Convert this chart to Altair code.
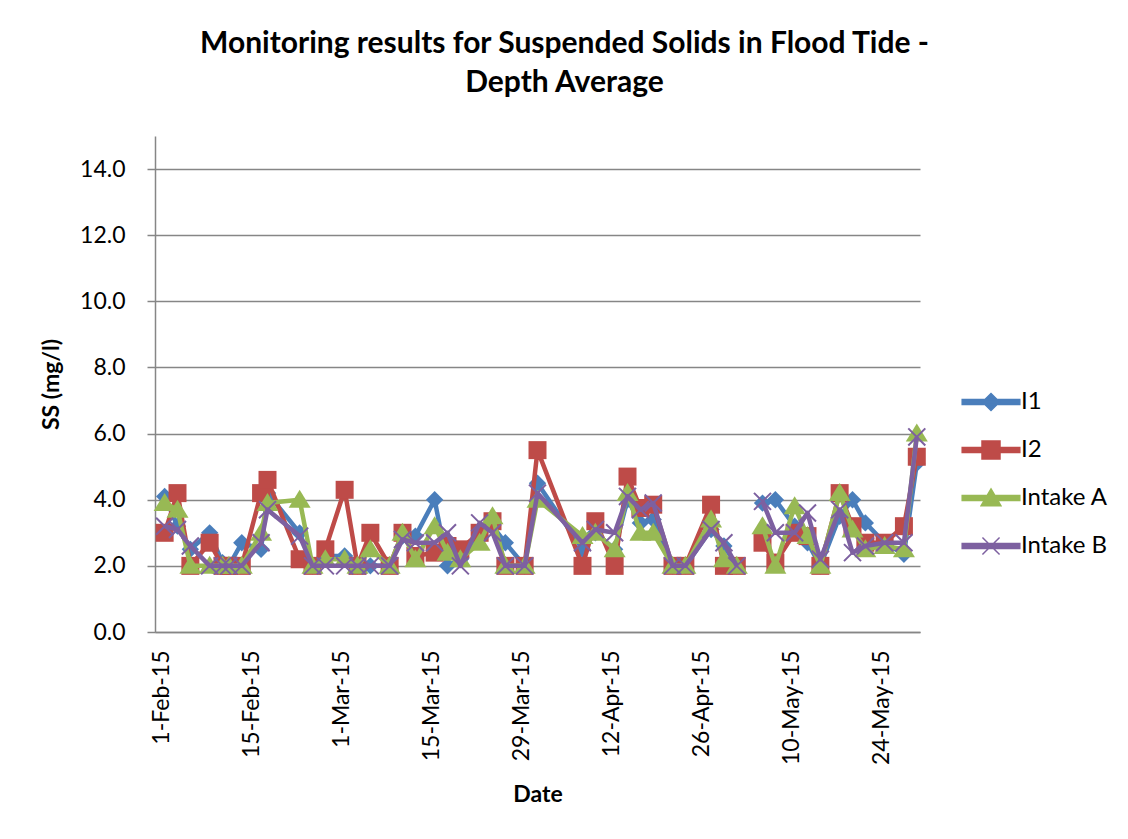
import altair as alt
import pandas as pd

# ---- data ----
dates = [
    "2015-02-01", "2015-02-03", "2015-02-05", "2015-02-08", "2015-02-10", "2015-02-11",
    "2015-02-13", "2015-02-16", "2015-02-17", "2015-02-22", "2015-02-24", "2015-02-26",
    "2015-03-01", "2015-03-03", "2015-03-05", "2015-03-08", "2015-03-10", "2015-03-12",
    "2015-03-15", "2015-03-17", "2015-03-19", "2015-03-22", "2015-03-24", "2015-03-26",
    "2015-03-29", "2015-03-31", "2015-04-07", "2015-04-09", "2015-04-12", "2015-04-14",
    "2015-04-16", "2015-04-18", "2015-04-21", "2015-04-23", "2015-04-27", "2015-04-29",
    "2015-05-01", "2015-05-03", "2015-05-05", "2015-05-07", "2015-05-10", "2015-05-12",
    "2015-05-14", "2015-05-17", "2015-05-19", "2015-05-21", "2015-05-24", "2015-05-27",
    "2015-05-29",
]
i1 = [4.1, 3.2, 2.5, 3.0, 2.1, 2.0, 2.7, 2.5, 4.2, 3.0, 2.0, 2.3,
      2.3, 2.0, 2.0, 2.0, 2.9, 2.9, 4.0, 2.0, 2.2, 2.9, 3.2, 2.7,
      2.0, 4.5, 2.5, 3.0, 2.5, 4.0, 3.3, 3.4, 2.0, 2.0, 3.1, 2.6,
      2.0, None, 3.9, 4.0, 3.2, 2.7, 2.0, 3.5, 4.0, 3.3, 2.7, 2.35,
      5.1]
i2 = [3.0, 4.2, 2.0, 2.7, 2.0, 2.0, 2.0, 4.2, 4.6, 2.2, 2.0, 2.5,
      4.3, 2.0, 3.0, 2.0, 3.0, 2.3, 2.4, 2.6, 2.5, 3.0, 3.35, 2.0,
      2.0, 5.5, 2.0, 3.35, 2.0, 4.7, 3.75, 3.85, 2.0, 2.0, 3.85, 2.0,
      2.0, None, 2.7, 2.1, 3.0, 2.9, 2.0, 4.2, 3.2, 2.7, 2.7, 3.2,
      5.3]
intake_a = [3.9, 3.7, 2.0, 2.0, 2.0, 2.0, 2.0, 3.0, 3.9, 4.0, 2.0, 2.2,
            2.2, 2.0, 2.5, 2.0, 3.0, 2.2, 3.2, 2.4, 2.2, 2.7, 3.5, 2.0,
            2.0, 4.0, 2.9, 3.0, 2.5, 4.2, 3.0, 3.0, 2.0, 2.0, 3.4, 2.2,
            2.0, None, 3.2, 2.0, 3.8, 2.9, 2.0, 4.2, 3.1, 2.5, 2.6, 2.5,
            6.0]
intake_b = [3.2, 3.1, 2.6, 2.0, 2.0, 2.0, 2.0, 2.7, 3.7, 2.9, 2.0, 2.0,
            2.0, 2.0, 2.0, 2.0, 2.8, 2.7, 2.7, 3.0, 2.0, 3.3, 3.0, 2.0,
            2.0, 4.2, 2.7, 3.1, 3.0, 4.1, 3.7, 3.9, 2.0, 2.0, 3.1, 2.7,
            2.0, None, 3.95, 3.0, 3.0, 3.6, 2.2, 3.7, 2.4, 2.6, 2.7, 2.7,
            5.9]

series_names = ["I1", "I2", "Intake A", "Intake B"]
series_values = [i1, i2, intake_a, intake_b]
colors = ["#4A7EBB", "#BE4B48", "#98B954", "#7D60A0"]

x_tick_dates = [(2015, 2, 1), (2015, 2, 15), (2015, 3, 1), (2015, 3, 15), (2015, 3, 29),
                (2015, 4, 12), (2015, 4, 26), (2015, 5, 10), (2015, 5, 24)]
y_ticks = [0, 2, 4, 6, 8, 10, 12, 14]

# ---- build long table ----
rows = []
for name, vals in zip(series_names, series_values):
    seg = 0
    for d, v in zip(dates, vals):
        if v is None:
            seg += 1
            continue
        rows.append({"date": d + "T12:00:00", "value": v, "series": name, "seg": seg})
df = pd.DataFrame(rows)

FONT = "Lato"
GRID = "#868686"

x_enc = alt.X(
    "date:T",
    scale=alt.Scale(domain=[alt.DateTime(year=2015, month=1, date=31),
                            alt.DateTime(year=2015, month=5, date=30)]),
    axis=alt.Axis(
        title="Date",
        values=[alt.DateTime(year=y, month=m, date=d) for (y, m, d) in x_tick_dates],
        format="%-d-%b-%y",
        labelAngle=270,
        labelPadding=18,
        ticks=False,
        grid=False,
        titlePadding=19,
    ),
)
y_enc = alt.Y(
    "value:Q",
    scale=alt.Scale(domain=[0, 15], nice=False),
    axis=alt.Axis(
        title="SS (mg/l)",
        values=y_ticks,
        format=".1f",
        grid=True,
        tickSize=8,
        labelPadding=22,
        titlePadding=16,
    ),
)

marker_paths = [
    "M0,-1L1,0L0,1L-1,0Z",
    "M-1,-1L1,-1L1,1L-1,1Z",
    "M0,-1L1.1,0.8L-1.1,0.8Z",
    "M-1,-1L1,1M1,-1L-1,1",
]
marker_sizes = [300, 324, 400, 290]

LINE = "M-3.2,-0.28L3.2,-0.28L3.2,0.28L-3.2,0.28Z"
legend_paths = [
    LINE + "M0,-0.95L0.95,0L0,0.95L-0.95,0Z",
    LINE + "M-1,-1L1,-1L1,1L-1,1Z",
    LINE + "M0,-1L1.1,0.85L-1.1,0.85Z",
    LINE + "M-0.95,-0.95L0.95,0.95M0.95,-0.95L-0.95,0.95",
]

layers = []
for i, name in enumerate(series_names):
    sub = alt.Chart(df).transform_filter(alt.datum.series == name)
    line = sub.mark_line(color=colors[i], strokeWidth=4.5, strokeJoin="round").encode(
        x=x_enc, y=y_enc, detail="seg:N"
    )
    if i == 3:
        pts = sub.mark_point(shape=marker_paths[i], size=marker_sizes[i], filled=False,
                             color=colors[i], strokeWidth=2, opacity=1).encode(x=x_enc, y=y_enc)
    else:
        pts = sub.mark_point(shape=marker_paths[i], size=marker_sizes[i], filled=True,
                             color=colors[i], strokeWidth=0, opacity=1).encode(x=x_enc, y=y_enc)
    layers += [line, pts]

# legend-only layer: no rows drawn, the legend comes from the explicit scale domains
legend_layer = alt.Chart(df).transform_filter("false").mark_point(filled=True, size=324).encode(
    x=x_enc,
    y=y_enc,
    fill=alt.Fill("series:N", scale=alt.Scale(domain=series_names, range=colors),
                  legend=alt.Legend(title=None)),
    stroke=alt.Stroke("series:N", scale=alt.Scale(domain=series_names, range=colors),
                      legend=alt.Legend(title=None)),
    shape=alt.Shape("series:N", scale=alt.Scale(domain=series_names, range=legend_paths),
                    legend=alt.Legend(title=None)),
)
layers.append(legend_layer)

chart = alt.layer(*layers).properties(
    width=765,
    height=496,
    title=alt.TitleParams(
        text=["Monitoring results for Suspended Solids in Flood Tide -", "Depth Average"],
        anchor="middle",
        dx=27,
        fontSize=30,
        fontWeight="bold",
        font=FONT,
        color="black",
        lineHeight=39,
        offset=38,
    ),
    padding={"left": 147, "top": 128, "right": 200, "bottom": 190},
    autosize=alt.AutoSizeParams(type="none"),
).configure_view(
    stroke=None
).configure_axis(
    labelFont=FONT,
    titleFont=FONT,
    labelFontSize=23,
    titleFontSize=23,
    titleFontWeight="bold",
    labelColor="black",
    titleColor="black",
    domainColor=GRID,
    domainWidth=1.5,
    gridColor=GRID,
    gridWidth=1.3,
    tickColor=GRID,
    tickWidth=1.5,
).configure_legend(
    orient="none",
    legendX=824,
    legendY=254,
    padding=0,
    labelFont=FONT,
    labelFontSize=24,
    labelColor="black",
    labelOffset=18,
    rowPadding=24,
    symbolSize=324,
    symbolStrokeWidth=1.5,
    symbolOpacity=1,
)

chart.save("out.html", embed_options={"renderer": "svg", "actions": False})
